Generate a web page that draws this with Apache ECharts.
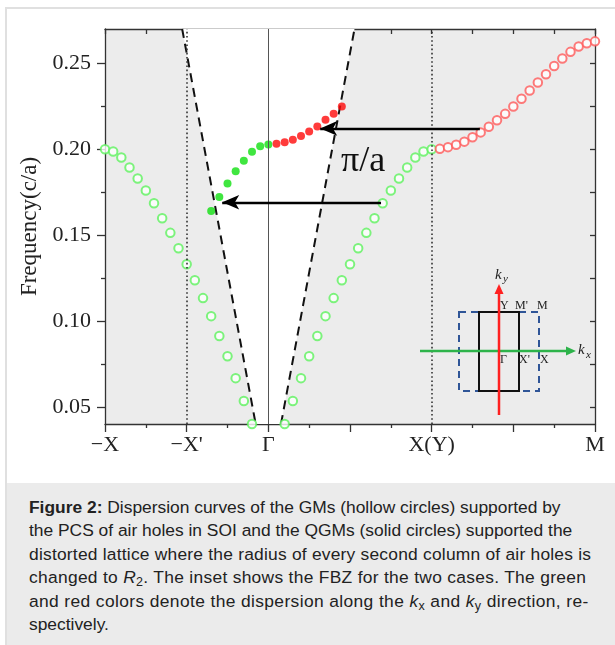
<!DOCTYPE html>
<html>
<head>
<meta charset="utf-8">
<script src="https://cdn.jsdelivr.net/npm/echarts@6/dist/echarts.min.js"></script>
<style>
html, body { margin: 0; padding: 0; background: #fff; width: 615px; height: 645px; overflow: hidden; }
#card { position: absolute; left: 5px; top: 7px; width: 610px; height: 638px; border-left: 2px solid #e0e0e0; border-top: 2px solid #e0e0e0; }
#mainCanvas { position: absolute; left: 0; top: 0; width: 615px; height: 483px; }
#caption { position: absolute; left: 7px; top: 483px; width: 608px; height: 162px; background: #ebebeb;
  font-family: "Liberation Sans", Arial, sans-serif; font-size: 17.4px; line-height: 23.4px; color: #222;
  padding: 13px 0 0 22px; box-sizing: border-box; white-space: nowrap; }
#caption sub { font-size: 12.5px; line-height: 0; vertical-align: -3px; }
.l3 { letter-spacing: 0.22px; }
.l4 { letter-spacing: 0.3px; }
.l5 { letter-spacing: 0.38px; }
</style>
</head>
<body>
<div id="card"></div>
<div id="mainCanvas"></div>
<div id="caption">
<b>Figure 2:</b> Dispersion curves of the GMs (hollow circles) supported by<br>
the PCS of air holes in SOI and the QGMs (solid circles) supported the<br>
<span class="l3">distorted lattice where the radius of every second column of air holes is</span><br>
<span class="l4">changed to <i>R</i><sub>2</sub>. The inset shows the FBZ for the two cases. The green</span><br>
<span class="l5">and red colors denote the dispersion along the <i>k</i><sub>x</sub> and <i>k</i><sub>y</sub> direction, re-</span><br>
spectively.
</div>
<script>
var myChart = echarts.init(document.getElementById("mainCanvas"));

// x positions of the symmetry points and their labels
var xLabelPos = [0, 2, 4, 8, 12];
var xLabelText = ['\u2212X', '\u2212X\'', '\u0393', 'X(Y)', 'M'];
var yLabels = [0.05, 0.10, 0.15, 0.20, 0.25];
var yMinor = [0.075, 0.125, 0.175, 0.225];
var yAll = [0.05, 0.075, 0.10, 0.125, 0.15, 0.175, 0.20, 0.225, 0.25];

// GMs, hollow circles (green: kx, red: ky)
var gmGreen = [
    [0, 0.200], [0.2, 0.1987], [0.4, 0.1952], [0.6, 0.1894], [0.8, 0.1830], [1.0, 0.1760],
    [1.2, 0.1685], [1.4, 0.1598], [1.6, 0.1513], [1.8, 0.1423], [2.0, 0.1330], [2.2, 0.1237],
    [2.4, 0.1133], [2.6, 0.1028], [2.8, 0.0912], [3.0, 0.0795], [3.2, 0.0667], [3.4, 0.0534],
    [3.6, 0.040],
    [4.4, 0.040], [4.6, 0.0534], [4.8, 0.0667], [5.0, 0.0795], [5.2, 0.0912], [5.4, 0.1028],
    [5.6, 0.1133], [5.8, 0.1237], [6.0, 0.1330], [6.2, 0.1423], [6.4, 0.1513], [6.6, 0.1598],
    [6.8, 0.1685], [7.0, 0.1760], [7.2, 0.1830], [7.4, 0.1894], [7.6, 0.1952], [7.8, 0.1987],
    [8.0, 0.200]
];
var gmRed = [
    [8.2, 0.2002], [8.4, 0.2012], [8.6, 0.2026], [8.8, 0.2044], [9.0, 0.2070], [9.2, 0.2098],
    [9.4, 0.2131], [9.6, 0.2169], [9.8, 0.2206], [10.0, 0.2249], [10.2, 0.2294], [10.4, 0.2342],
    [10.6, 0.2388], [10.8, 0.2437], [11.0, 0.2485], [11.2, 0.2528], [11.4, 0.2567], [11.6, 0.2598],
    [11.8, 0.2617], [12.0, 0.2628]
];
// QGMs, solid circles
var qgmGreen = [
    [2.6, 0.1640], [2.8, 0.1722], [3.0, 0.1801], [3.2, 0.1871], [3.4, 0.1933], [3.6, 0.1985],
    [3.8, 0.2018], [4.0, 0.2028]
];
var qgmRed = [
    [4.2, 0.2032], [4.4, 0.2041], [4.6, 0.2055], [4.8, 0.2077], [5.0, 0.2103], [5.2, 0.2133],
    [5.4, 0.2172], [5.6, 0.2206], [5.8, 0.2249]
];
// light lines
var lightL = [[1.89, 0.27], [3.69, 0.04]];
var lightR = [[4.31, 0.04], [6.11, 0.27]];
// folding arrows: [from x, to x, frequency]
var arrows = [[9.18, 5.27, 0.2121], [6.76, 2.87, 0.1691]];

var serif = '"Liberation Serif", "Times New Roman", serif';
var axisColor = '#333';

function frameAxis(extra) {
    var a = {
        type: 'value',
        axisLine: { show: true, onZero: false, lineStyle: { color: axisColor, width: 1.3 } },
        axisTick: { show: true, lineStyle: { color: axisColor, width: 1.3 } },
        axisLabel: { show: false },
        splitLine: { show: false },
        minorSplitLine: { show: false }
    };
    for (var k in extra) {
        if (typeof extra[k] === 'object' && a[k] && !Array.isArray(extra[k])) {
            for (var j in extra[k]) a[k][j] = extra[k][j];
        } else {
            a[k] = extra[k];
        }
    }
    return a;
}

var option = {
    animation: false,
    grid: {
        left: 105, top: 29, width: 490, height: 395,
        show: true, backgroundColor: '#ececec', borderWidth: 0,
        containLabel: false, outerBoundsMode: 'none'
    },
    xAxis: [
        frameAxis({
            position: 'bottom', min: 0, max: 12, interval: 2,
            axisTick: { inside: false, length: 8 },
            minorTick: { show: true, splitNumber: 2, length: 4, lineStyle: { color: axisColor, width: 1.3 } },
            axisLabel: {
                show: true, margin: 10, fontFamily: serif, fontSize: 22, color: '#222',
                formatter: function (v) {
                    var i = xLabelPos.indexOf(v);
                    return i < 0 ? '' : xLabelText[i];
                }
            }
        }),
        frameAxis({
            position: 'top', min: 0, max: 12, interval: 1,
            axisTick: { inside: true, length: 5 }
        })
    ],
    yAxis: [
        frameAxis({
            position: 'left', min: 0.04, max: 0.27,
            axisTick: { inside: false, length: 8, customValues: yLabels },
            axisLabel: {
                show: true, customValues: yLabels, margin: 14, fontFamily: serif, fontSize: 22, color: '#222',
                formatter: function (v) { return v.toFixed(2); }
            },
            name: 'Frequency(c/a)', nameLocation: 'middle', nameRotate: 90, nameGap: 62,
            nameTextStyle: { fontFamily: serif, fontSize: 23, color: '#222' }
        }),
        frameAxis({
            position: 'left', min: 0.04, max: 0.27,
            axisLine: { show: false },
            axisTick: { inside: false, length: 4, customValues: yMinor }
        }),
        frameAxis({
            position: 'right', min: 0.04, max: 0.27,
            axisTick: { inside: true, length: 5, customValues: yAll }
        })
    ],
    series: [
        {
            name: 'cone', type: 'line', data: lightL.concat(lightR), symbol: 'none', z: 1,
            lineStyle: { width: 0 }, areaStyle: { color: '#ffffff', opacity: 1, origin: 'end' },
            silent: true
        },
        {
            name: 'guides', type: 'line', data: [], z: 2, silent: true,
            markLine: {
                silent: true, symbol: ['none', 'none'], label: { show: false },
                data: [
                    { xAxis: 2, lineStyle: { color: '#333', width: 1.6, type: [1.6, 2.6] } },
                    { xAxis: 4, lineStyle: { color: '#555', width: 1, type: 'solid' } },
                    { xAxis: 8, lineStyle: { color: '#333', width: 1.6, type: [1.6, 2.6] } }
                ]
            }
        },
        {
            name: 'lightL', type: 'line', data: lightL, symbol: 'none', z: 3, silent: true,
            lineStyle: { color: '#111', width: 2, type: [9, 6] }
        },
        {
            name: 'lightR', type: 'line', data: lightR, symbol: 'none', z: 3, silent: true,
            lineStyle: { color: '#111', width: 2, type: [9, 6] }
        },
        {
            name: 'GM kx', type: 'scatter', data: gmGreen, symbol: 'emptyCircle', symbolSize: 8.5, z: 4,
            itemStyle: { color: '#5ef25e', borderWidth: 1.2 }, clip: true
        },
        {
            name: 'GM ky', type: 'scatter', data: gmRed, symbol: 'emptyCircle', symbolSize: 8.5, z: 4,
            itemStyle: { color: '#ff5a5a', borderWidth: 1.2 }, clip: true
        },
        {
            name: 'QGM kx', type: 'scatter', data: qgmGreen, symbol: 'circle', symbolSize: 8, z: 4,
            itemStyle: { color: '#10e010' }
        },
        {
            name: 'QGM ky', type: 'scatter', data: qgmRed, symbol: 'circle', symbolSize: 8, z: 4,
            itemStyle: { color: '#ff0a0a' }
        },
        {
            name: 'fold', type: 'line', data: [], z: 5, silent: true,
            markLine: {
                silent: true, symbol: ['none', 'arrow'], symbolSize: [11, 17], label: { show: false },
                lineStyle: { color: '#000', width: 2.4, type: 'solid' },
                data: arrows.map(function (a) {
                    return [{ coord: [a[0], a[2]] }, { coord: [a[1], a[2]] }];
                })
            }
        }
    ],
    graphic: [
        { type: 'text', left: 341, top: 144, z: 10,
          style: { text: '\u03c0/a', font: '36px ' + serif, fill: '#111' } },
        // inset: first Brillouin zones
        { type: 'rect', z: 10, shape: { x: 459, y: 312, width: 80, height: 79 },
          style: { fill: 'none', stroke: '#2f5597', lineWidth: 2, lineDash: [7, 5] } },
        { type: 'rect', z: 10, shape: { x: 479, y: 312, width: 40, height: 79 },
          style: { fill: 'none', stroke: '#111', lineWidth: 2 } },
        { type: 'line', z: 11, shape: { x1: 420, y1: 351, x2: 568, y2: 351 },
          style: { stroke: '#2db34a', lineWidth: 2.5 } },
        { type: 'polygon', z: 11, shape: { points: [[576, 351], [566, 346.5], [566, 355.5]] },
          style: { fill: '#2db34a' } },
        { type: 'line', z: 11, shape: { x1: 499, y1: 415, x2: 499, y2: 292 },
          style: { stroke: '#ff2020', lineWidth: 2.5 } },
        { type: 'polygon', z: 11, shape: { points: [[499, 284], [494.5, 294], [503.5, 294]] },
          style: { fill: '#ff2020' } },
        { type: 'text', z: 12, left: 495, top: 268, style: { text: 'k', font: 'italic 15px ' + serif, fill: '#222' } },
        { type: 'text', z: 12, left: 503, top: 274, style: { text: 'y', font: 'italic 11px ' + serif, fill: '#222' } },
        { type: 'text', z: 12, left: 578, top: 343, style: { text: 'k', font: 'italic 15px ' + serif, fill: '#222' } },
        { type: 'text', z: 12, left: 586, top: 350, style: { text: 'x', font: 'italic 11px ' + serif, fill: '#222' } },
        { type: 'text', z: 12, left: 500, top: 300, style: { text: 'Y', font: '12px ' + serif, fill: '#222' } },
        { type: 'text', z: 12, left: 515, top: 300, style: { text: "M'", font: '12px ' + serif, fill: '#222' } },
        { type: 'text', z: 12, left: 537, top: 300, style: { text: 'M', font: '12px ' + serif, fill: '#222' } },
        { type: 'text', z: 12, left: 500, top: 354, style: { text: '\u0393', font: '12px ' + serif, fill: '#222' } },
        { type: 'text', z: 12, left: 519, top: 354, style: { text: "X'", font: '12px ' + serif, fill: '#222' } },
        { type: 'text', z: 12, left: 540, top: 354, style: { text: 'X', font: '12px ' + serif, fill: '#222' } }
    ]
};

myChart.setOption(option);
</script>
</body>
</html>
